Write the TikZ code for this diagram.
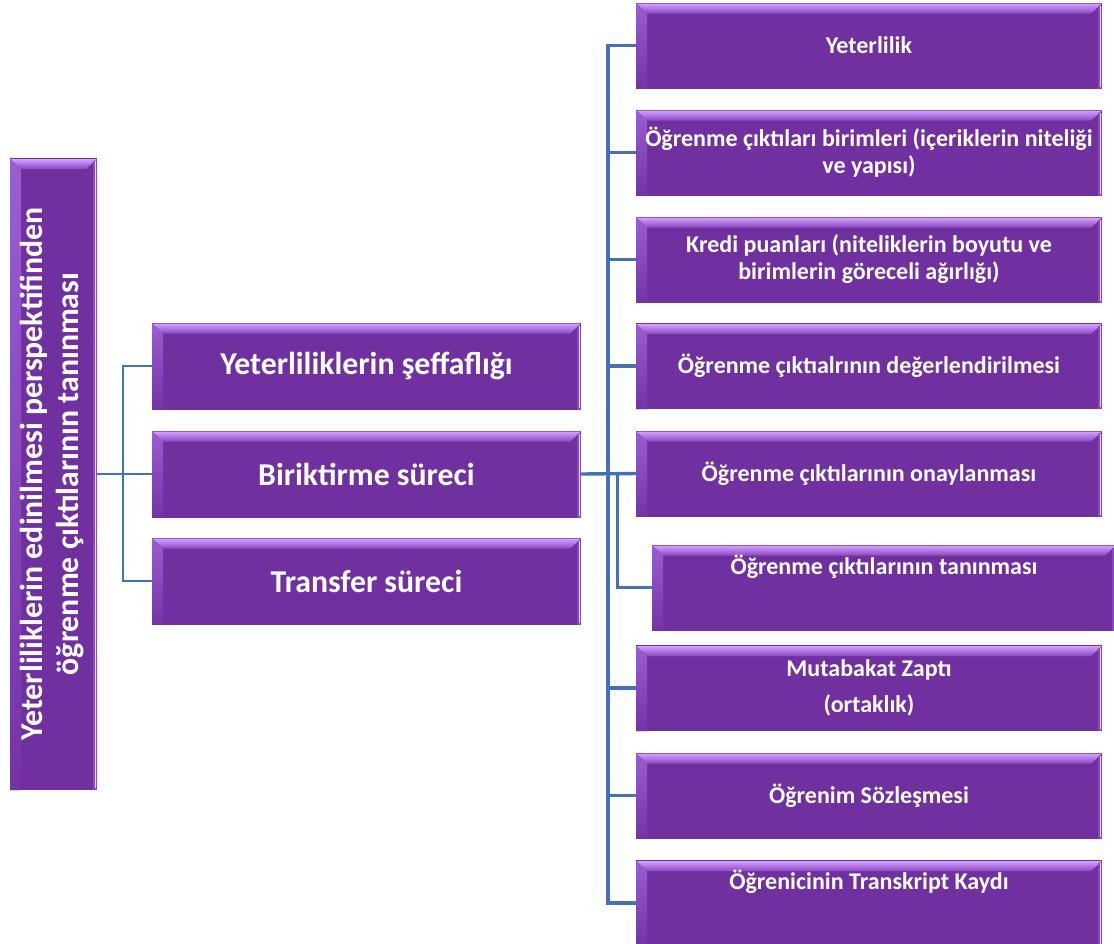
\documentclass[tikz,border=0pt]{standalone}
\usepackage{fontspec}
\setmainfont{Carlito}
\usetikzlibrary{calc}
\definecolor{purp}{HTML}{7030A0}
\definecolor{bevtop}{HTML}{D2A0FF}
\definecolor{bevtopin}{HTML}{8A48C0}
\definecolor{bevleft}{HTML}{9C5CD2}
\definecolor{bevleftin}{HTML}{7434A6}
\definecolor{bevright}{HTML}{E8D2FF}
\definecolor{conncol}{HTML}{4470B8}
\tikzset{
  bevbox/.style={draw=none, fill=purp, text=white, inner sep=0pt, align=center,
    path picture={
      \path (path picture bounding box.north west) coordinate (pNW)
            (path picture bounding box.south east) coordinate (pSE);
      \fill[top color=bevtop, bottom color=bevtopin]
        ([yshift=-1pt]pNW) -- ([yshift=-1pt]pNW -| pSE) -- ([shift={(-11pt,-11pt)}]pNW -| pSE)
        -- ([shift={(11pt,-11pt)}]pNW) -- cycle;
      \fill[top color=bevleft, bottom color=bevleftin]
        ([yshift=-1pt]pNW) -- ([shift={(11pt,-11pt)}]pNW) -- ([shift={(11pt,0pt)}]pNW |- pSE)
        -- (pNW |- pSE) -- cycle;
      \fill[bevtopin] ([shift={(-4pt,-3pt)}]pNW -| pSE) rectangle (pSE);
      \fill[bevright] ([shift={(-2.5pt,-3pt)}]pNW -| pSE) rectangle ([shift={(-0.8pt,2pt)}]pSE);
    }},
  midbox/.style={bevbox, minimum width=429pt, minimum height=87pt,
    font=\fontsize{31.8}{36}\selectfont\bfseries},
  rbox/.style={bevbox, minimum width=466pt, minimum height=86pt,
    font=\fontsize{24}{27}\selectfont\bfseries},
  upshift/.style={text height=18pt, text depth=45pt},
  conn/.style={draw=conncol, line width=3.4pt},
  connthin/.style={draw=conncol, line width=2.6pt}
}
\begin{document}
\begin{tikzpicture}[x=1pt,y=-1pt]
\useasboundingbox (0,0) rectangle (1114,943);
% left vertical box
\node[bevbox, minimum width=87pt, minimum height=632pt] (L) at (53.5,474)
  {\rotatebox{90}{\fontsize{31.8}{36}\selectfont\bfseries
   \begin{tabular}{@{}c@{}}Yeterliliklerin edinilmesi perspektifinden\\ öğrenme çıktılarının tanınması\end{tabular}}};
% middle boxes
\node[midbox] (M1) at (366.5,366) {Yeterliliklerin şeffaflığı};
\node[midbox] (M2) at (366.5,474) {Biriktirme süreci};
\node[midbox] (M3) at (366.5,581) {Transfer süreci};
% right boxes
\node[rbox] (R1) at (869,45.5) {Yeterlilik};
\node[rbox] (R2) at (869,152.5) {Öğrenme çıktıları birimleri (içeriklerin niteliği\\ ve yapısı)};
\node[rbox] (R3) at (869,259.5) {Kredi puanları (niteliklerin boyutu ve\\ birimlerin göreceli ağırlığı)};
\node[rbox] (R4) at (869,366) {Öğrenme çıktıalrının değerlendirilmesi};
\node[rbox] (R5) at (869,473.5) {Öğrenme çıktılarının onaylanması};
\node[rbox, minimum width=464pt, upshift] (R6) at (884,587.5) {Öğrenme çıktılarının tanınması};
\node[rbox] (R7) at (869,688) {Mutabakat Zaptı\\[9pt] (ortaklık)};
\node[rbox] (R8) at (869,795.5) {Öğrenim Sözleşmesi};
\node[rbox, upshift] (R9) at (869,903) {Öğrenicinin Transkript Kaydı};
% connector coordinates
\coordinate (lx) at (123,0);
\coordinate (rx) at (608,0);
\coordinate (rx2) at (617.5,0);
% left connectors
\draw[connthin] (L.east) -- (M2.west);
\draw[connthin] (M1.west) -- (M1.west -| lx) -- (M3.west -| lx) -- (M3.west);
% right connectors
\draw[conn] (M2.east) -- (R5.west);
\draw[conn] (R1.west) -- (R1.west -| rx) -- (R9.west -| rx) -- (R9.west);
\foreach \r in {R2,R3,R4,R7,R8}{
  \draw[conn] (\r.west -| rx) -- (\r.west);
}
\draw[connthin] (M2.east -| rx2) -- (R6.west -| rx2) -- (R6.west);
\end{tikzpicture}
\end{document}
